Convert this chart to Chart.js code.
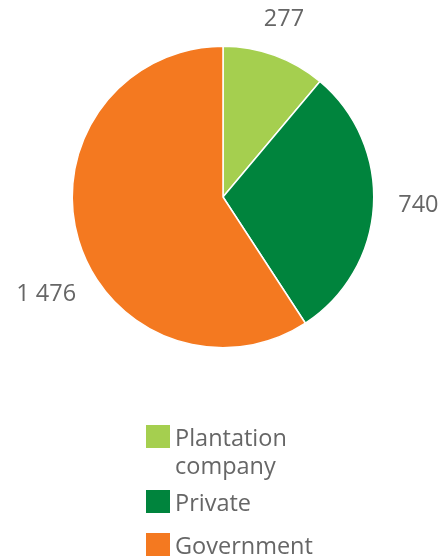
<!DOCTYPE html>
<html>
<head>
<meta charset="utf-8">
<script src="https://cdn.jsdelivr.net/npm/chart.js@4"></script>
<style>
  html, body { margin: 0; padding: 0; background: #fff; }
  #wrap { width: 442px; height: 557px; position: relative; }
</style>
</head>
<body>
<div id="wrap"><canvas id="pie"></canvas></div>
<script>
// data
const categories = [['Plantation', 'company'], 'Private', 'Government'];
const values = [277, 740, 1476];
const valueLabels = ['277', '740', '1 476'];
const colors = ['#a5cf4f', '#00843d', '#f47920'];

const textColor = '#666666';
const fontFamily = '"Open Sans", sans-serif';

// value labels outside the slices, placed on the mid angle of each arc
const outsideLabels = {
  id: 'outsideLabels',
  afterDatasetsDraw(chart) {
    const ctx = chart.ctx;
    const meta = chart.getDatasetMeta(0);
    // small hand nudges so the labels sit where the original put them
    const nudge = [[-5, 3], [3, -3], [8, 42]];
    ctx.save();
    ctx.font = '23.5px ' + fontFamily;
    ctx.fillStyle = textColor;
    ctx.textAlign = 'center';
    ctx.textBaseline = 'middle';
    meta.data.forEach((arc, i) => {
      const mid = (arc.startAngle + arc.endAngle) / 2;
      const r = arc.outerRadius + 42;
      const x = arc.x + Math.cos(mid) * r + nudge[i][0];
      const y = arc.y + Math.sin(mid) * r + nudge[i][1];
      ctx.fillText(valueLabels[i], x, y);
    });
    ctx.restore();
  }
};

// legend below the pie, one square per slice, text may wrap onto two lines
const stackedLegend = {
  id: 'stackedLegend',
  afterDraw(chart) {
    const ctx = chart.ctx;
    const boxX = 146, textX = 175;
    const tops = [425, 490, 533];
    ctx.save();
    ctx.font = '23.5px ' + fontFamily;
    ctx.textAlign = 'left';
    ctx.textBaseline = 'alphabetic';
    categories.forEach((cat, i) => {
      ctx.fillStyle = colors[i];
      ctx.fillRect(boxX, tops[i], 24, 23);
      ctx.fillStyle = textColor;
      const lines = Array.isArray(cat) ? cat : [cat];
      lines.forEach((line, j) => {
        ctx.fillText(line, textX, tops[i] + 21 + j * 28);
      });
    });
    ctx.restore();
  }
};

new Chart(document.getElementById('pie'), {
  type: 'pie',
  data: {
    labels: categories.map(c => Array.isArray(c) ? c.join(' ') : c),
    datasets: [{
      data: values,
      backgroundColor: colors,
      borderColor: '#ffffff',
      borderWidth: 1.5
    }]
  },
  options: {
    responsive: true,
    maintainAspectRatio: false,
    animation: false,
    layout: {
      padding: { left: 71.5, top: 45.5, right: 67.5, bottom: 208.5 }
    },
    plugins: {
      legend: { display: false },
      tooltip: { enabled: false }
    }
  },
  plugins: [outsideLabels, stackedLegend]
});
</script>
</body>
</html>
